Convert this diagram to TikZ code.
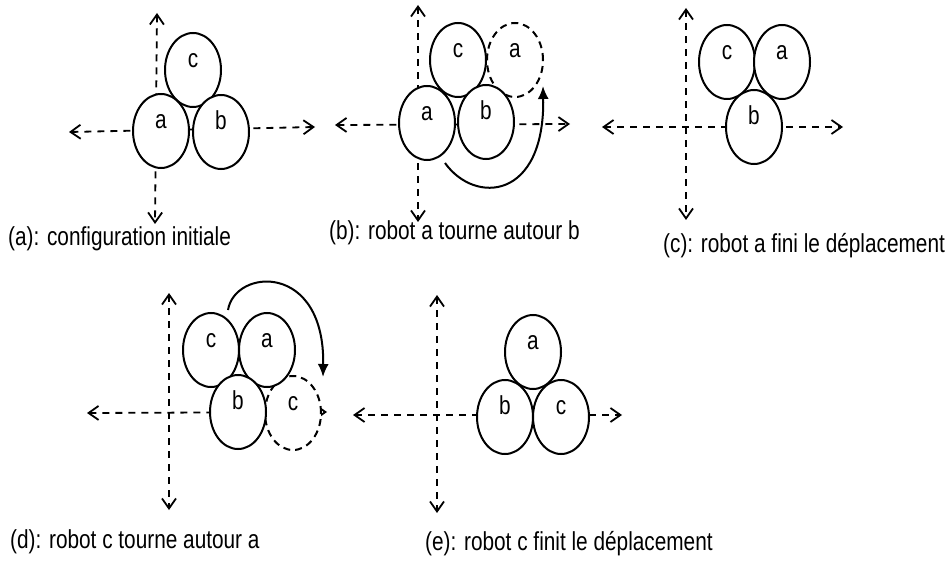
\documentclass[tikz,border=0pt]{standalone}
\usepackage{fontspec}
\setmainfont{Liberation Sans}[FakeStretch=0.8]
\usepackage{tikz}
\usetikzlibrary{
	shapes,
	arrows.meta,
	positioning}
\newcommand{\lblfont}{\fontsize{26}{30}\selectfont}
\tikzset{
	robot width/.store in=\rwidth,
	robot width = 56pt,
	robot height/.store in=\rheight,
	robot height = 74pt,
	robot/.style={
		ellipse,
		draw=black,
		fill=white,
		line width=2pt,
		inner sep=0pt,
		minimum width=\rwidth,
		minimum height=\rheight,
		text height=10pt,
		text depth=15pt,
		font=\lblfont
	},
	ghost/.style={
		robot,
		dashed,
		dash pattern=on 7pt off 5pt
	},
	axis/.style={
		draw,
		line width=1.8pt,
		dash pattern=on 7pt off 6pt,
		{Straight Barb[length=10pt,width=14pt,line width=1.8pt]}-{Straight Barb[length=10pt,width=14pt,line width=1.8pt]}
	},
	turn/.style={
		draw,
		line width=2pt,
		-{Latex[length=13pt,width=11pt]}
	},
	caption/.style={
		anchor=base west,
		inner sep=0pt,
		font=\lblfont
	},
}
\begin{document}
\begin{tikzpicture}[x=1pt, y=-1pt]
	\useasboundingbox (0,0) rectangle (952,561);
	% axis ends
	\coordinate (n1) at (157,13);  \coordinate (s1) at (155,224);
	\coordinate (w1) at (69,132);  \coordinate (e1) at (315,127);
	\coordinate (n2) at (418,5);   \coordinate (s2) at (418,222);
	\coordinate (w2) at (335,125); \coordinate (e2) at (570,124);
	\coordinate (n3) at (686,8);   \coordinate (s3) at (686,220);
	\coordinate (w3) at (602,127); \coordinate (e3) at (843,127);
	\coordinate (n4) at (169,293); \coordinate (s4) at (169,510);
	\coordinate (w4) at (87,413);  \coordinate (e4) at (327,412);
	\coordinate (n5) at (437,295); \coordinate (s5) at (437,513);
	\coordinate (w5) at (353,415); \coordinate (e5) at (622,415);
	\foreach \i in {1,...,5} {
		\draw[axis] (n\i) -- (s\i);
		\draw[axis] (w\i) -- (e\i);
	}
%
	\node[ghost] (ga2) at (515,60)  {a};
	\node[ghost] (gc4) at (293,413) {c};
%
	\node[robot] (rc1) at (193,70)  {c};
	\node[robot] (ra1) at (161,131) {a};
	\node[robot] (rb1) at (221,132) {b};
	\node[robot] (rc2) at (458,60)  {c};
	\node[robot] (ra2) at (427,123) {a};
	\node[robot] (rb2) at (486,122) {b};
	\node[robot] (rc3) at (727,62)  {c};
	\node[robot] (ra3) at (782,62)  {a};
	\node[robot] (rb3) at (754,127) {b};
	\node[robot] (rc4) at (211,350) {c};
	\node[robot] (ra4) at (267,350) {a};
	\node[robot] (rb4) at (238,412) {b};
	\node[robot] (ra5) at (533,352) {a};
	\node[robot] (rb5) at (505,417) {b};
	\node[robot] (rc5) at (561,417) {c};
%
	\coordinate (from2) at (445,163); \coordinate (to2) at (543,86);
	\coordinate (from4) at (228,310); \coordinate (to4) at (323,377);
	\draw[turn] (from2) .. controls (475,205) and (545,200) .. (to2);
	\draw[turn] (from4) .. controls (235,268) and (325,262) .. (to4);
%
	\node[caption] (cap1) at (8,245)   {(a): configuration initiale};
	\node[caption] (cap2) at (329,240) {(b): robot a tourne autour b};
	\node[caption] (cap3) at (663,252) {(c): robot a fini le déplacement};
	\node[caption] (cap4) at (10,548)  {(d): robot c tourne autour a};
	\node[caption] (cap5) at (425,550) {(e): robot c finit le déplacement};
\end{tikzpicture}
\end{document}
